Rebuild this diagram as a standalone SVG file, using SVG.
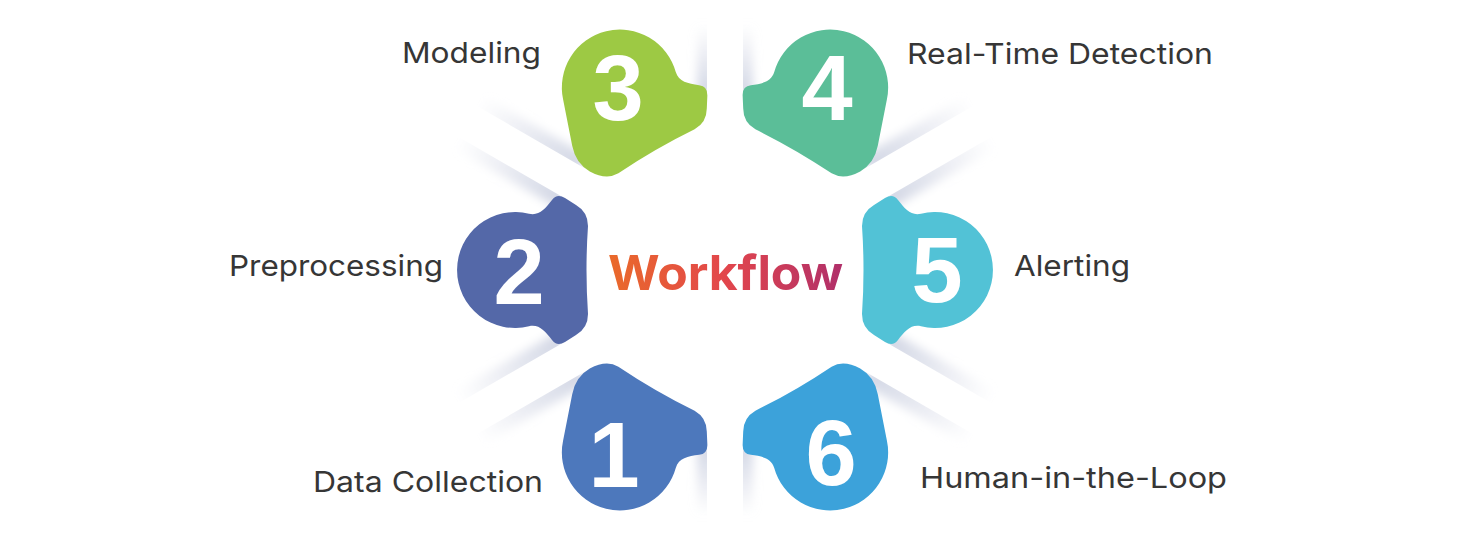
<svg xmlns="http://www.w3.org/2000/svg" width="1457" height="555" viewBox="0 0 1457 555">
  <style>
    .label { font-family: Inter, "Liberation Sans", sans-serif; font-size: 29px; fill: #363636; }
    .num { font-family: "Liberation Sans", Arial, sans-serif; font-size: 92px; font-weight: bold; fill: #ffffff; text-anchor: middle; }
    .title { font-family: Inter, "Liberation Sans", sans-serif; font-size: 48px; font-weight: bold; }
  </style>
  <defs>
    <linearGradient id="fadeL" gradientUnits="userSpaceOnUse" x1="178" y1="0" x2="295" y2="0">
      <stop offset="0" stop-color="#d3d7e5" stop-opacity="1"/>
      <stop offset="1" stop-color="#d3d7e5" stop-opacity="0"/>
    </linearGradient>
    <linearGradient id="fadeS" gradientUnits="userSpaceOnUse" x1="178" y1="0" x2="245" y2="0">
      <stop offset="0" stop-color="#d3d7e5" stop-opacity="1"/>
      <stop offset="1" stop-color="#d3d7e5" stop-opacity="0"/>
    </linearGradient>
    <linearGradient id="wfGrad" x1="0" y1="0" x2="1" y2="0">
      <stop offset="0" stop-color="#EA6A2A"/>
      <stop offset="0.5" stop-color="#E2464C"/>
      <stop offset="1" stop-color="#B02F6A"/>
    </linearGradient>
    <filter id="soft" x="-30%" y="-150%" width="160%" height="400%">
      <feGaussianBlur stdDeviation="5"/>
    </filter>
    <clipPath id="clipSide" clipPathUnits="userSpaceOnUse">
      <rect x="150" y="18" width="200" height="50"/>
      <rect x="150" y="-68" width="200" height="50"/>
    </clipPath>
    <g id="gapShade">
      <g clip-path="url(#clipSide)">
        <rect x="176" y="10" width="122" height="20" fill="url(#fadeL)" filter="url(#soft)"/>
        <rect x="176" y="-30" width="122" height="20" fill="url(#fadeL)" filter="url(#soft)"/>
      </g>
    </g>
    <g id="gapShadeShort">
      <g clip-path="url(#clipSide)">
        <rect x="176" y="10" width="72" height="18" fill="url(#fadeS)" filter="url(#soft)"/>
        <rect x="176" y="-28" width="72" height="18" fill="url(#fadeS)" filter="url(#soft)"/>
      </g>
    </g>
    <path id="pBoth" d="M137,-44 Q137,-58 149,-65 L160,-72 Q168,-77 173,-70 C180,-61 186,-54 196,-56.3 A58,58 0 1 1 196,56.3 C186,54 180,61 173,70 Q168,77 160,72 L149,65 Q137,58 137,44 Q140,0 137,-44 Z"/>
    <path id="pA" d="M137,-44 Q137,-58 149,-65 L160,-72 Q168,-77 173,-70 C180,-61 186,-54 196,-56.3 A58,58 0 0 1 228.5,55 L184,70.2 Q167,76 153,67.8 Q137,58 137,44 Q140,0 137,-44 Z"/>
    <path id="pB" d="M137,44 Q137,58 149,65 L160,72 Q168,77 173,70 C180,61 186,54 196,56.3 A58,58 0 0 0 228.5,-55 L184,-70.2 Q167,-76 153,-67.8 Q137,-58 137,-44 Q140,0 137,44 Z"/>
  </defs>

  <rect width="1457" height="555" fill="#ffffff"/>

  <g id="connectors">
    <use href="#gapShade" transform="translate(725,270) rotate(-30)"/>
    <use href="#gapShadeShort" transform="translate(725,270) rotate(-90)"/>
    <use href="#gapShade" transform="translate(725,270) rotate(-150)"/>
    <use href="#gapShade" transform="translate(725,270) rotate(150)"/>
    <use href="#gapShadeShort" transform="translate(725,270) rotate(90)"/>
    <use href="#gapShade" transform="translate(725,270) rotate(30)"/>
  </g>

  <g id="step1">
    <use href="#pA" fill="#4D78BC" transform="translate(725,270) rotate(120)"/>
    <text class="num" x="614" y="487">1</text>
    <text class="label" x="313" y="492" textLength="230" lengthAdjust="spacingAndGlyphs">Data Collection</text>
  </g>

  <g id="step2">
    <use href="#pBoth" fill="#5468A8" transform="translate(725,270) rotate(180)"/>
    <text class="num" x="519" y="304">2</text>
    <text class="label" x="229" y="276" textLength="214" lengthAdjust="spacingAndGlyphs">Preprocessing</text>
  </g>

  <g id="step3">
    <use href="#pB" fill="#9DC944" transform="translate(725,270) rotate(-120)"/>
    <text class="num" x="618" y="120">3</text>
    <text class="label" x="402" y="63" textLength="139" lengthAdjust="spacingAndGlyphs">Modeling</text>
  </g>

  <g id="step4">
    <use href="#pA" fill="#5BBE98" transform="translate(725,270) rotate(-60)"/>
    <text class="num" x="827" y="120">4</text>
    <text class="label" x="907" y="64" textLength="306" lengthAdjust="spacingAndGlyphs">Real-Time Detection</text>
  </g>

  <g id="step5">
    <use href="#pBoth" fill="#52C2D6" transform="translate(725,270)"/>
    <text class="num" x="937" y="302">5</text>
    <text class="label" x="1014" y="276" textLength="116" lengthAdjust="spacingAndGlyphs">Alerting</text>
  </g>

  <g id="step6">
    <use href="#pB" fill="#3CA2DA" transform="translate(725,270) rotate(60)"/>
    <text class="num" x="831" y="485">6</text>
    <text class="label" x="920" y="488" textLength="307" lengthAdjust="spacingAndGlyphs">Human-in-the-Loop</text>
  </g>

  <g id="center">
    <text class="title" x="608" y="290" textLength="235" lengthAdjust="spacingAndGlyphs" fill="url(#wfGrad)">Workflow</text>
  </g>
</svg>
